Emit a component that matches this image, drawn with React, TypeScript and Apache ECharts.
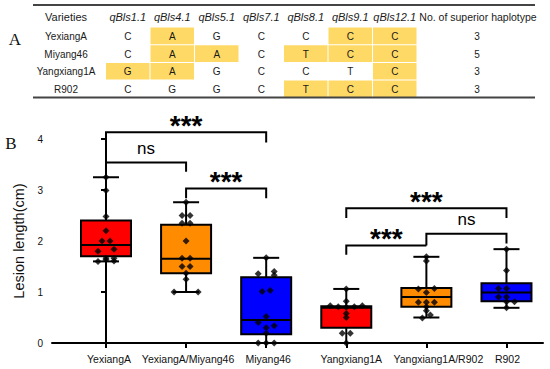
import React, { useEffect, useRef } from "react";
import * as echarts from "echarts";

// ---------- Panel B data ----------
const categories = ["YexiangA", "YexiangA/Miyang46", "Miyang46", "Yangxiang1A", "Yangxiang1A/R902", "R902"];
const boxColors = ["#FF0000", "#FF8C00", "#0000FF", "#FF0000", "#FF8C00", "#0000FF"];
// [min, q1, median, q3, max]
const boxStats = [
  [1.6, 1.7, 1.92, 2.4, 3.25],
  [1.0, 1.37, 1.65, 2.32, 2.76],
  [0.0, 0.17, 0.45, 1.29, 1.67],
  [0.0, 0.3, 0.69, 0.72, 1.06],
  [0.5, 0.71, 0.9, 1.08, 1.69],
  [0.69, 0.82, 0.99, 1.17, 1.84],
];
const pointValues = [
  [3.25, 2.99, 2.48, 2.2, 2.0, 2.0, 1.84, 1.8, 1.66, 1.66, 1.6, 1.63, 1.61],
  [2.76, 2.5, 2.5, 2.35, 2.35, 2.0, 1.66, 1.66, 1.5, 1.5, 1.37, 1.25, 1.0, 1.0],
  [1.67, 1.36, 1.4, 1.33, 1.01, 1.03, 0.52, 0.4, 0.34, 0.3, 0.19, 0.0, 0.0, 0.0],
  [1.06, 0.82, 0.73, 0.71, 0.7, 0.71, 0.73, 0.58, 0.5, 0.19, 0.19, 0.0],
  [1.69, 1.61, 1.06, 1.07, 0.99, 0.8, 0.8, 0.8, 0.71, 0.63, 0.55, 0.49],
  [1.84, 1.42, 1.07, 1.07, 0.9, 0.9, 0.81, 0.81, 0.69],
];
// horizontal jitter slots of each point
const pointSlots = [
  [0, 0, 0, 0, -1, 1, 2, -2, 0, 2, -2, 0, 2],
  [0, -1, 1, -1, 1, 0, -1, 1, -1, 1, 0, 0, -3, 3],
  [0, -2, 2, 2, -1, 1, 0, -2, 2, 0, 0, -2, 0, 2],
  [0, 0, -4, -2, 0, 2, 4, 0, 0, -1, 1, 0],
  [0, 0, -2, 2, 0, -2, 0, 2, 0, 0, 1, -1],
  [0, 0, -2, 0, -2, 0, 0, 2, 0],
];
const yTicks = [0, 1, 2, 3, 4];

// significance brackets
const bracketFrom = [0, 0, 1, 3, 4, 3];
const bracketTo = [2, 1, 2, 4, 5, 5];
const bracketY = [4.13, 3.54, 3.03, 1.91, 2.14, 2.64];
const bracketLeftEnd = [3.93, 3.36, 2.84, 1.73, 1.91, 2.45];
const bracketRightEnd = [3.93, 3.36, 2.84, 1.91, 1.95, 2.45];
const bracketLabels = ["***", "ns", "***", "***", "ns", "***"];

// ---------- Panel A data ----------
const qtlHeaders = ["qBls1.1", "qBls4.1", "qBls5.1", "qBls7.1", "qBls8.1", "qBls9.1", "qBls12.1"];
const varieties = ["YexiangA", "Miyang46", "Yangxiang1A", "R902"];
const genotypes = [
  ["C", "A", "G", "C", "C", "C", "C"],
  ["C", "A", "A", "C", "T", "C", "C"],
  ["G", "A", "G", "C", "C", "T", "C"],
  ["C", "G", "G", "C", "T", "C", "C"],
];
const superiorAlleles = ["G", "A", "A", "", "T", "C", "C"];
const superiorCounts = [3, 5, 3, 3];

const SANS = "'Liberation Sans', Arial, Helvetica, sans-serif";
const SERIF = "'Liberation Serif', 'Times New Roman', serif";

// small horizontal label shifts (px) under the x axis ticks
const xLabelShift = [3, 2, 2, 5, 12, 1];

function buildTable(): any[] {
  const els: any[] = [];
  const left = 33, right = 535, topRule = 5, bottomRule = 97.5;
  const rowTop0 = 27, rowH = 17.7;
  const colLeft0 = 105.5, colW = 44.5;
  const varCx = 66, countCx = 478, headerY = 16.5;
  const txtColor = "#1a1a1a";
  genotypes.forEach((row, r) => {
    row.forEach((g, c) => {
      if (superiorAlleles[c] && g === superiorAlleles[c]) {
        els.push({
          type: "rect",
          shape: { x: colLeft0 + c * colW + 0.5, y: rowTop0 + r * rowH + 0.5, width: colW - 1, height: rowH - 1 },
          style: { fill: "#FFD966" },
        });
      }
    });
  });
  els.push({ type: "line", shape: { x1: left, y1: topRule, x2: right, y2: topRule }, style: { stroke: "#444", lineWidth: 2 } });
  els.push({ type: "line", shape: { x1: left, y1: bottomRule, x2: right, y2: bottomRule }, style: { stroke: "#444", lineWidth: 2 } });
  const t = (text: string, x: number, y: number, italic = false, size = 10) => ({
    type: "text",
    x,
    y,
    style: {
      text,
      fill: txtColor,
      font: `${italic ? "italic " : ""}${size}px ${SANS}`,
      textAlign: "center",
      textVerticalAlign: "middle",
    },
  });
  els.push(t("Varieties", varCx, headerY, false, 11));
  qtlHeaders.forEach((h, c) => els.push(t(h, colLeft0 + c * colW + colW / 2, headerY, true, 11)));
  els.push(t("No. of superior haplotype", countCx, headerY, false, 10.5));
  varieties.forEach((v, r) => {
    const cy = rowTop0 + r * rowH + rowH / 2 + 0.5;
    els.push(t(v, varCx, cy));
    genotypes[r].forEach((g, c) => els.push(t(g, colLeft0 + c * colW + colW / 2, cy)));
    els.push(t(String(superiorCounts[r]), countCx - 1, cy));
  });
  els.push({ type: "text", x: 15, y: 39, style: { text: "A", fill: "#111", font: `17px ${SERIF}`, textAlign: "center", textVerticalAlign: "middle" } });
  els.push({ type: "text", x: 11, y: 143, style: { text: "B", fill: "#111", font: `17px ${SERIF}`, textAlign: "center", textVerticalAlign: "middle" } });
  return els;
}

export default function App() {
  const ref = useRef<HTMLDivElement>(null);
  useEffect(() => {
    document.body.style.margin = "0";
    const chart = echarts.init(ref.current!, undefined, { renderer: "svg" });
    const slotUnit = 0.05;
    const scatterData: number[][] = [];
    pointValues.forEach((vals, i) => vals.forEach((v, k) => scatterData.push([i + pointSlots[i][k] * slotUnit, v])));

    const rich: any = {};
    xLabelShift.forEach((s, i) => {
      rich["s" + i] = { padding: [0, 0, 0, s * 2], fontSize: 10.5, fontFamily: SANS, color: "#111" };
    });

    const option: any = {
      animation: false,
      grid: { left: 52, right: 7, top: 139, bottom: 26, containLabel: false },
      xAxis: {
        type: "value",
        min: -0.674,
        max: 5.456,
        splitLine: { show: false },
        axisLine: { show: true, onZero: false, lineStyle: { color: "#000", width: 2 } },
        axisTick: { show: true, customValues: categories.map((_, i) => i), length: 5, lineStyle: { color: "#000", width: 2 } },
        axisLabel: {
          customValues: categories.map((_, i) => i),
          formatter: (v: number) => {
            const i = Math.round(v);
            return categories[i] ? `{s${i}|${categories[i]}}` : "";
          },
          rich,
          color: "#111",
          fontSize: 10.5,
          fontFamily: SANS,
          margin: 10,
        },
      },
      yAxis: {
        type: "value",
        min: 0,
        max: 4,
        interval: 1,
        name: "Lesion length(cm)",
        nameLocation: "middle",
        nameGap: 15,
        nameTextStyle: { color: "#111", fontSize: 14.5, fontFamily: SANS },
        splitLine: { show: false },
        axisLine: { show: true, lineStyle: { color: "#000", width: 2 } },
        axisTick: { show: true, length: 5, lineStyle: { color: "#000", width: 2 } },
        axisLabel: { color: "#111", fontSize: 10, fontFamily: SANS, margin: 9, customValues: yTicks },
      },
      graphic: { elements: buildTable() },
      series: [
        {
          type: "custom",
          name: "box",
          clip: false,
          z: 2,
          encode: { x: 0, y: [1, 2, 3, 4, 5] },
          data: boxStats.map((s, i) => [i, ...s]),
          renderItem: (params: any, api: any) => {
            const x = api.value(0);
            const pMin = api.coord([x, api.value(1)]);
            const pQ1 = api.coord([x, api.value(2)]);
            const pMed = api.coord([x, api.value(3)]);
            const pQ3 = api.coord([x, api.value(4)]);
            const pMax = api.coord([x, api.value(5)]);
            const cx = pMin[0];
            const hb = 25, hc = 13;
            const ls = { stroke: "#000", lineWidth: 2 };
            return {
              type: "group",
              children: [
                { type: "line", shape: { x1: cx, y1: pMin[1], x2: cx, y2: pMax[1] }, style: ls },
                { type: "line", shape: { x1: cx - hc, y1: pMax[1], x2: cx + hc, y2: pMax[1] }, style: ls },
                { type: "line", shape: { x1: cx - hc, y1: pMin[1], x2: cx + hc, y2: pMin[1] }, style: ls },
                {
                  type: "rect",
                  shape: { x: cx - hb, y: pQ3[1], width: hb * 2, height: pQ1[1] - pQ3[1] },
                  style: { fill: boxColors[params.dataIndex], stroke: "#000", lineWidth: 2 },
                },
                { type: "line", shape: { x1: cx - hb, y1: pMed[1], x2: cx + hb, y2: pMed[1] }, style: ls },
              ],
            };
          },
        },
        {
          type: "scatter",
          name: "points",
          z: 3,
          symbol: "diamond",
          symbolSize: 7,
          itemStyle: { color: "#000" },
          data: scatterData,
        },
        {
          type: "custom",
          name: "brackets",
          clip: false,
          z: 4,
          encode: { x: [0, 1], y: [2, 3, 4] },
          data: bracketFrom.map((f, i) => [f, bracketTo[i], bracketY[i], bracketLeftEnd[i], bracketRightEnd[i]]),
          renderItem: (params: any, api: any) => {
            const x1 = api.value(0), x2 = api.value(1), y = api.value(2);
            const a = api.coord([x1, api.value(3)]);
            const b = api.coord([x1, y]);
            const c = api.coord([x2, y]);
            const d = api.coord([x2, api.value(4)]);
            const label = bracketLabels[params.dataIndex];
            const isStar = label === "***";
            return {
              type: "group",
              children: [
                {
                  type: "polyline",
                  shape: { points: [a, b, c, d] },
                  style: { stroke: "#000", lineWidth: 2, fill: "none" },
                },
                {
                  type: "text",
                  x: (b[0] + c[0]) / 2,
                  y: b[1] - (isStar ? 7 : 14),
                  style: {
                    text: label,
                    fill: "#000",
                    font: isStar ? `bold 28px ${SANS}` : `17px ${SANS}`,
                    textAlign: "center",
                    textVerticalAlign: "middle",
                  },
                },
              ],
            };
          },
        },
      ],
    };
    chart.setOption(option);
    return () => chart.dispose();
  }, []);
  return <div ref={ref} style={{ width: 550, height: 369 }} />;
}
